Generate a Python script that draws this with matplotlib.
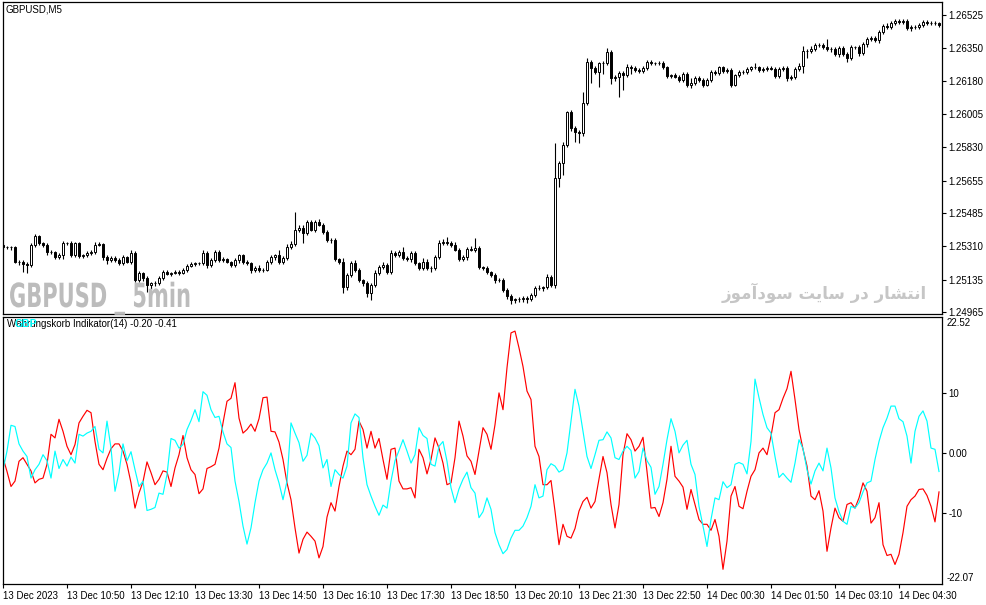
import matplotlib
matplotlib.use("Agg")
import matplotlib.pyplot as plt
import matplotlib.patheffects as pe
from matplotlib.transforms import Affine2D
import numpy as np

W, H = 987, 605

# price data, in points (0.00001) above BASE
BASE = 1.24900
POINT = 1e-5
first_open_pts = 418
close_pts = [
    407, 407, 407, 329, 329, 318, 313, 418, 465, 428,
    418, 381, 381, 355, 365, 428, 428, 365, 428, 360,
    365, 376, 381, 418, 423, 355, 339, 350, 339, 323,
    355, 329, 376, 234, 271, 245, 208, 218, 218, 245,
    276, 266, 271, 276, 271, 287, 308, 318, 323, 323,
    376, 313, 339, 381, 339, 344, 329, 313, 339, 365,
    329, 323, 287, 297, 287, 287, 329, 355, 365, 329,
    350, 407, 423, 497, 507, 481, 539, 497, 539, 523,
    486, 444, 444, 344, 329, 197, 260, 323, 287, 234,
    218, 166, 208, 271, 302, 313, 276, 376, 365, 381,
    350, 344, 376, 323, 297, 329, 297, 297, 355, 428,
    434, 428, 418, 392, 344, 355, 397, 392, 402, 302,
    297, 276, 260, 234, 234, 182, 150, 129, 134, 134,
    140, 134, 155, 192, 192, 197, 250, 208, 770, 848,
    943, 1116, 1032, 1011, 1006, 1163, 1379, 1347, 1326, 1373,
    1373, 1431, 1295, 1300, 1321, 1310, 1352, 1347, 1337, 1331,
    1347, 1379, 1373, 1373, 1373, 1352, 1305, 1310, 1300, 1284,
    1316, 1258, 1268, 1295, 1284, 1258, 1284, 1326, 1321, 1352,
    1331, 1337, 1258, 1310, 1326, 1326, 1342, 1352, 1352, 1337,
    1342, 1347, 1342, 1305, 1342, 1347, 1295, 1300, 1342, 1358,
    1436, 1436, 1447, 1468, 1468, 1457, 1447, 1447, 1421, 1452,
    1421, 1400, 1457, 1457, 1426, 1473, 1499, 1504, 1494, 1536,
    1568, 1562, 1583, 1594, 1589, 1594, 1557, 1562, 1562, 1573,
    1589, 1583, 1583, 1583, 1573,
]
wick_up = [
    10, 8, 8, 6, 8, 10, 10, 12, 8, 6, 6, 8, 8, 6, 10, 12, 8, 10, 8, 6,
    6, 8, 10, 14, 8, 6, 10, 8, 12, 8, 12, 6, 14, 10, 8, 6, 8, 8, 12, 10,
    8, 10, 6, 8, 10, 8, 8, 12, 6, 8, 14, 8, 10, 12, 8, 10, 8, 6, 10, 8,
    8, 8, 6, 10, 14, 8, 12, 10, 8, 24, 10, 16, 18, 95, 14, 16, 10, 12, 10, 16,
    8, 10, 10, 8, 6, 20, 12, 10, 14, 8, 6, 10, 12, 14, 10, 14, 8, 16, 10, 12,
    24, 10, 8, 12, 8, 20, 16, 10, 8, 14, 16, 26, 12, 18, 12, 10, 8, 16, 53, 10,
    8, 10, 6, 10, 8, 8, 10, 8, 8, 10, 8, 8, 12, 10, 14, 8, 16, 10, 183, 10,
    14, 6, 10, 12, 8, 58, 21, 10, 12, 8, 10, 21, 12, 10, 12, 8, 16, 10, 8, 10,
    8, 10, 8, 8, 10, 10, 8, 8, 10, 8, 10, 8, 26, 10, 10, 8, 8, 10, 10, 8,
    8, 10, 10, 8, 10, 8, 10, 8, 20, 8, 10, 8, 10, 8, 8, 12, 10, 8, 10, 14,
    26, 10, 14, 10, 10, 8, 42, 10, 12, 10, 10, 8, 10, 8, 10, 10, 12, 10, 10, 10,
    10, 16, 12, 10, 8, 10, 8, 10, 10, 10, 8, 8, 10, 10, 8,
]
wick_dn = [
    10, 10, 16, 8, 14, 40, 40, 12, 10, 8, 10, 16, 12, 12, 10, 20, 10, 8, 10, 12,
    10, 8, 10, 12, 8, 14, 22, 10, 8, 10, 12, 8, 10, 12, 8, 14, 36, 20, 18, 8,
    10, 8, 10, 8, 12, 8, 10, 8, 12, 10, 8, 14, 10, 8, 12, 10, 8, 12, 10, 14,
    10, 8, 16, 10, 12, 10, 8, 10, 14, 10, 12, 10, 8, 12, 10, 52, 12, 8, 10, 8,
    10, 10, 16, 12, 10, 30, 14, 10, 12, 10, 14, 20, 36, 12, 10, 8, 10, 12, 10, 8,
    10, 10, 14, 12, 10, 8, 10, 20, 12, 10, 8, 10, 12, 8, 10, 10, 14, 8, 10, 10,
    10, 12, 8, 14, 10, 12, 16, 20, 18, 14, 16, 20, 12, 10, 8, 14, 10, 12, 15, 48,
    63, 12, 16, 53, 53, 14, 12, 79, 12, 79, 60, 10, 30, 16, 105, 79, 12, 30, 10, 12,
    8, 10, 12, 10, 8, 10, 12, 10, 8, 10, 12, 10, 14, 10, 10, 12, 8, 10, 10, 12,
    10, 12, 10, 8, 10, 10, 12, 10, 8, 10, 12, 10, 8, 12, 10, 10, 14, 12, 10, 10,
    36, 36, 12, 10, 10, 12, 10, 14, 10, 16, 12, 22, 10, 12, 16, 10, 14, 10, 8, 16,
    10, 12, 12, 10, 12, 10, 10, 14, 12, 10, 10, 12, 10, 10, 12,
]

# indicator buffers
red_line = [
    -0.8, -3.1, -5.6, -4.7, -1.4, -0.8, -1.9, -3.0, -5.0, -4.4,
    -4.2, -1.9, 3.1, 2.5, 5.6, 3.6, 1.1, -0.3, 1.4, 5.0,
    6.1, 7.1, 6.7, 1.9, -1.9, -2.8, -0.9, 0.7, 1.5, 1.5,
    0.3, -1.9, -5.0, -9.2, -6.7, -4.8, -1.5, -3.3, -5.3, -4.4,
    -3.0, -3.2, -5.6, -2.5, -0.3, 2.9, -0.8, -2.8, -3.6, -6.8,
    -6.0, -2.6, -2.3, -1.9, 0.8, 5.0, 8.6, 9.1, 11.7, 5.8,
    3.3, 3.9, 4.8, 3.6, 5.7, 9.2, 9.3, 3.6, 3.5, 1.8,
    -1.1, -5.0, -7.8, -12.5, -16.7, -14.4, -13.2, -13.9, -14.7, -17.5,
    -15.6, -10.7, -8.3, -9.7, -5.6, -2.2, 0.3, -0.3, 0.6, 5.3,
    3.9, 0.8, 3.6, 0.8, 2.4, -1.1, -4.4, 0.6, 0.8, -4.7,
    -6.0, -6.0, -5.8, -7.5, 0.6, -0.8, -3.5, -1.1, 2.5, 0.8,
    -1.7, -5.3, -5.0, -0.8, 5.3, 2.8, -0.5, -1.4, -3.6, 0.3,
    4.2, 3.1, 0.6, 4.7, 10.0, 7.2, 14.2, 20.0, 20.3, 17.5,
    14.4, 10.3, 8.9, 1.1, -0.6, -5.3, -5.3, -4.6, -9.7, -15.3,
    -11.9, -13.9, -14.2, -12.6, -9.7, -8.1, -7.4, -9.2, -8.1, -4.4,
    -0.6, -3.3, -8.6, -12.5, -8.6, -0.3, 3.2, 2.2, 0.3, 1.1,
    2.6, -3.1, -9.2, -9.1, -10.6, -8.3, -4.4, 1.1, -3.9, -4.7,
    -5.7, -9.4, -6.1, -8.6, -11.1, -11.9, -11.9, -12.9, -11.1, -13.9,
    -19.4, -14.7, -7.2, -5.6, -8.9, -9.3, -6.4, -3.9, -2.8, 0.0,
    0.8, -0.3, 2.8, 6.7, 7.2, 9.1, 10.7, 13.6, 8.9, 3.9,
    0.6, -2.2, -7.2, -7.8, -6.3, -9.7, -16.4, -12.5, -9.2, -10.8,
    -11.4, -8.6, -8.3, -9.2, -7.5, -5.0, -6.4, -11.7, -10.8, -8.3,
    -15.3, -17.1, -16.9, -18.6, -16.9, -13.3, -8.9, -7.8, -7.2, -6.1,
    -6.0, -7.1, -8.9, -11.5, -6.5,
]
cyan_line = [
    -2.8, 0.3, 4.6, 4.4, 1.5, 0.3, -0.6, -4.2, -2.8, -1.9,
    -0.3, -1.3, -4.2, 0.3, -2.6, -1.1, -2.2, -0.7, -1.7, 3.1,
    2.8, 3.3, 3.6, 4.4, 0.6, 0.0, 5.3, 0.8, -6.4, -3.3,
    1.5, -1.3, 0.2, -2.8, -5.6, -4.7, -9.6, -9.4, -9.1, -6.7,
    -6.9, -3.6, 2.4, 2.1, 0.8, 1.4, 3.9, 5.4, 7.2, 5.2,
    10.2, 9.6, 7.2, 5.9, 6.1, 3.5, 1.5, 0.9, -4.7, -8.1,
    -12.2, -15.2, -12.5, -8.3, -4.7, -2.8, -1.7, 0.0, -2.8, -5.0,
    -7.8, -4.7, 5.0, 3.3, 1.7, -1.4, -0.4, 3.3, 2.5, 1.2,
    -2.5, -1.1, -5.6, -2.8, -3.6, -4.2, -2.2, 5.0, 6.5, 5.9,
    -0.8, -5.3, -7.2, -8.9, -10.4, -8.7, -9.2, -4.7, -1.3, 0.4,
    2.2, 0.3, -1.7, -0.3, 4.2, 2.9, 2.4, -1.9, -2.2, 1.1,
    1.9, -1.4, -5.8, -8.3, -6.0, -4.4, -3.2, -5.8, -6.7, -10.8,
    -9.8, -7.5, -9.4, -13.3, -15.3, -16.8, -16.1, -14.2, -12.9, -12.9,
    -12.2, -10.8, -8.9, -5.3, -7.5, -7.2, -2.8, -1.8, -2.2, -3.2,
    -2.8, 0.0, 5.3, 10.6, 7.8, 3.6, -0.6, -2.6, -0.3, 2.1,
    2.2, 3.5, 2.5, -0.8, -1.1, 0.3, 1.1, 0.4, -4.2, -3.1,
    0.8, -1.3, -2.4, -6.9, -5.6, -1.9, 2.2, 5.7, 3.6, 0.0,
    1.3, 2.1, -1.9, -3.6, -8.9, -12.2, -15.6, -11.1, -7.5, -7.8,
    -4.8, -5.8, -5.3, -1.9, -1.6, -1.9, -3.5, 1.9, 12.3, 9.2,
    6.4, 4.2, 3.3, -0.6, -4.1, -3.4, -4.2, -4.9, -1.7, 2.2,
    0.7, -2.8, -5.2, -3.0, -1.7, -3.0, 0.8, -2.5, -7.5, -9.8,
    -11.4, -11.9, -8.9, -9.2, -8.3, -6.5, -5.0, -4.7, -1.1, 1.9,
    4.2, 5.8, 7.8, 7.8, 5.7, 5.2, 2.8, -1.7, 3.6, 6.1,
    7.0, 5.3, 0.8, 0.6, -3.1,
]

tick_bars = [0, 16, 32, 48, 64, 80, 96, 112, 128, 144, 160, 176, 192, 208, 224]
time_labels = ["13 Dec 2023", "13 Dec 10:50", "13 Dec 12:10", "13 Dec 13:30",
               "13 Dec 14:50", "13 Dec 16:10", "13 Dec 17:30", "13 Dec 18:50",
               "13 Dec 20:10", "13 Dec 21:30", "13 Dec 22:50", "14 Dec 00:30",
               "14 Dec 01:50", "14 Dec 03:10", "14 Dec 04:30"]
price_ticks = [1.26525, 1.26350, 1.26180, 1.26005, 1.25830,
               1.25655, 1.25485, 1.25310, 1.25135, 1.24965]
ind_ticks = [10, 0, -10]
ind_tick_labels = ["10", "0.00", "-10"]

plt.rcParams['font.family'] = ['Liberation Sans', 'DejaVu Sans']
plt.rcParams['font.size'] = 7


class Squeeze(pe.AbstractPathEffect):
    # narrows glyphs horizontally, like the condensed watermark font
    def __init__(self, sx):
        super().__init__()
        self.sx = sx

    def draw_path(self, renderer, gc, tpath, affine, rgbFace=None):
        renderer.draw_path(gc, tpath, Affine2D().scale(self.sx, 1) + affine, rgbFace)


def fx(px):
    return px / W


def fy(py):
    return 1 - py / H


n = len(close_pts)
x = np.arange(n)
closes = BASE + np.array(close_pts) * POINT
opens = np.r_[BASE + first_open_pts * POINT, closes[:-1]]
highs = np.maximum(opens, closes) + np.array(wick_up[:n]) * POINT
lows = np.minimum(opens, closes) - np.array(wick_dn[:n]) * POINT

fig = plt.figure(figsize=(W / 100, H / 100), dpi=100)
ax1 = fig.add_axes([fx(3), fy(314), 939 / W, 312 / H])
ax2 = fig.add_axes([fx(3), fy(584), 939 / W, 267 / H])

# candles
ax1.vlines(x, lows, highs, color='black', linewidth=0.8, zorder=2)
bull = closes >= opens
body_lo = np.minimum(opens, closes)
body_h = np.abs(closes - opens)
ax1.bar(x[bull], body_h[bull], bottom=body_lo[bull], width=0.62,
        facecolor='white', edgecolor='black', linewidth=0.7, zorder=3)
ax1.bar(x[~bull], body_h[~bull], bottom=body_lo[~bull], width=0.62,
        facecolor='black', edgecolor='black', linewidth=0.7, zorder=3)

ax1.set_xlim(0, 234.75)
ax1.set_ylim(1.249555, 1.265935)
ax1.yaxis.tick_right()
ax1.set_yticks(price_ticks, [f"{p:.5f}" for p in price_ticks])
ax1.set_xticks([])
ax1.tick_params(axis='y', direction='out', length=3, width=0.8, pad=1.5,
                labelsize=7, colors='black')

# indicator
ax2.plot(x, red_line[:n], color='#ff0000', linewidth=0.85)
ax2.plot(x, cyan_line[:n], color='#00ffff', linewidth=0.85)
ax2.set_xlim(0, 234.75)
ax2.set_ylim(-21.85, 22.65)
ax2.yaxis.tick_right()
ax2.set_yticks(ind_ticks, ind_tick_labels)
ax2.tick_params(axis='y', direction='out', length=3, width=0.8, pad=1.5,
                labelsize=7)
ax2.set_xticks(tick_bars, time_labels)
ax2.tick_params(axis='x', direction='out', length=3, width=0.8, pad=2,
                labelsize=7)
for lbl in ax2.get_xticklabels():
    lbl.set_ha('left')

for ax in (ax1, ax2):
    for s in ax.spines.values():
        s.set_linewidth(0.9)
        s.set_color('black')

# texts
fig.text(fx(947), fy(323), "22.52", fontsize=7, va='center', ha='left')
fig.text(fx(947), fy(578), "-22.07", fontsize=7, va='center', ha='left')
fig.text(fx(6), fy(10), "GBPUSD,M5", fontsize=7, va='center', ha='left')
fig.text(fx(7), fy(324), "Währungskorb Indikator(14) -0.20 -0.41",
         fontsize=7, va='center', ha='left')
fig.text(fx(15), fy(324), "GBP", fontsize=7.5, fontweight='bold',
         color='#00ffff', va='center', ha='left')

fig.text(fx(9), fy(307), "GBPUSD _ 5min", fontsize=24, fontweight='bold',
         color='#bcbcbc', va='baseline', ha='left', family=['DejaVu Sans'],
         path_effects=[Squeeze(0.63)])
persian = ("\ufeaf\ufeee\ufee3\ufe81\ufea9\ufeee\ufeb3 "
           "\ufe96\ufef3\ufe8e\ufeb3 \ufead\ufea9 "
           "\ufead\ufe8e\ufeb8\ufe98\ufee7\ufe8d")
fig.text(fx(927), fy(293), persian, fontsize=12, fontweight='bold',
         color='#c6c6c6', va='center', ha='right', family=['DejaVu Sans'])

fig.savefig("out.png", dpi=100, facecolor='white')
